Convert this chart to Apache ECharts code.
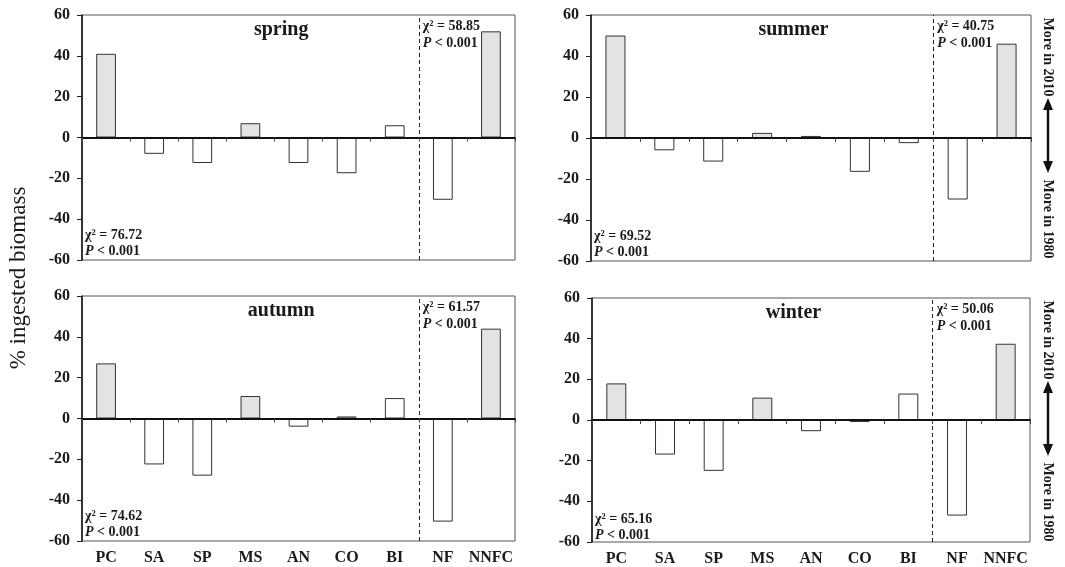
<!DOCTYPE html>
<html>
<head>
<meta charset="utf-8">
<script src="https://cdn.jsdelivr.net/npm/echarts@6/dist/echarts.min.js"></script>
<style>
  html, body { margin: 0; padding: 0; background: #fff; }
  #chart { width: 1065px; height: 567px; }
</style>
</head>
<body>
<div id="chart"></div>
<script>
var categories = ["PC", "SA", "SP", "MS", "AN", "CO", "BI", "NF", "NNFC"];
var seasons = ["spring", "summer", "autumn", "winter"];

var spring = [41, -8, -12.5, 7, -12.5, -17.5, 6, -30.5, 52];
var summer = [50, -6, -11.5, 2.5, 1, -16.5, -2.5, -30, 46];
var autumn = [27, -22.5, -28, 11, -4, 1, 10, -50.5, 44];
var winter = [18, -17, -25, 11, -5.5, -1, 13, -47, 37.5];

var chiRight = ["58.85", "40.75", "61.57", "50.06"];
var chiLeft = ["76.72", "69.52", "74.62", "65.16"];

var yMin = -60;
var yMax = 60;
var yStep = 20;

var values = [spring, summer, autumn, winter];

var FONT = "'Liberation Serif', 'DejaVu Serif', serif";
var INK = "#1a1a1a";

// panel frames (pixels)
var panels = [
  { left: 82, top: 15, width: 433, height: 245 },
  { left: 591, top: 15, width: 440, height: 246 },
  { left: 82, top: 296, width: 433, height: 245 },
  { left: 592, top: 298, width: 438, height: 246 },
];

var chart = echarts.init(document.getElementById("chart"));

var grids = [];
var xAxes = [];
var yAxes = [];
var series = [];
var graphics = [];

var rich = {
  b: { font: "bold 14px " + FONT, fill: INK },
  i: { font: "italic bold 14px " + FONT, fill: INK },
};

panels.forEach(function (p, k) {
  var bottomRow = k >= 2;
  grids.push({
    left: p.left,
    top: p.top,
    width: p.width,
    height: p.height,
    show: true,
    borderColor: "#555",
    borderWidth: 1,
  });

  // labels along the bottom
  xAxes.push({
    gridIndex: k,
    type: "category",
    data: categories,
    position: "bottom",
    axisLine: { show: false, onZero: false },
    axisTick: { show: false },
    axisLabel: {
      show: bottomRow,
      interval: 0,
      margin: 9,
      color: INK,
      fontFamily: FONT,
      fontWeight: "bold",
      fontSize: 16,
    },
  });
  // zero line with ticks
  xAxes.push({
    gridIndex: k,
    type: "category",
    data: categories,
    position: "bottom",
    z: 10,
    axisLine: { onZero: true, lineStyle: { color: "#111", width: 2 } },
    axisTick: { show: true, interval: 0, length: 4, lineStyle: { color: "#444" } },
    axisLabel: { show: false, interval: 0 },
  });
  // helper for the separator line
  xAxes.push({
    gridIndex: k,
    type: "value",
    min: 0,
    max: categories.length,
    show: false,
    position: "top",
  });

  yAxes.push({
    gridIndex: k,
    type: "value",
    min: yMin,
    max: yMax,
    interval: yStep,
    axisLine: { show: true, lineStyle: { color: "#111", width: 1.5 } },
    axisTick: { show: true, length: 5, lineStyle: { color: "#222" } },
    splitLine: { show: false },
    axisLabel: {
      margin: 12,
      color: INK,
      fontFamily: FONT,
      fontWeight: "bold",
      fontSize: 16,
    },
  });

  series.push({
    type: "bar",
    xAxisIndex: k * 3,
    yAxisIndex: k,
    data: values[k],
    barWidth: "41%",
    animation: false,
    itemStyle: {
      color: function (params) {
        return params.value > 0 && params.name !== "BI" ? "#e3e3e3" : "#ffffff";
      },
      borderColor: "#333",
      borderWidth: 1,
    },
  });

  series.push({
    type: "line",
    xAxisIndex: k * 3 + 2,
    yAxisIndex: k,
    data: [],
    animation: false,
    markLine: {
      silent: true,
      symbol: ["none", "none"],
      label: { show: false },
      lineStyle: { type: [4, 3], color: "#222", width: 1 },
      data: [{ xAxis: 7 }],
    },
  });

  var sepX = p.left + (p.width * 7) / categories.length;

  // season title
  graphics.push({
    type: "text",
    x: p.left + p.width * 0.46,
    y: p.top + 15,
    style: {
      text: seasons[k],
      font: "bold 20px " + FONT,
      fill: INK,
      align: "center",
      verticalAlign: "middle",
    },
  });

  // chi-square, right part
  graphics.push({
    type: "text",
    x: sepX + 4,
    y: p.top + 20,
    style: {
      text: "{b|χ² = " + chiRight[k] + "}\n{i|P}{b| < 0.001}",
      rich: rich,
      lineHeight: 17,
      align: "left",
      verticalAlign: "middle",
    },
  });

  // chi-square, left part
  graphics.push({
    type: "text",
    x: p.left + 3,
    y: p.top + p.height - 17,
    style: {
      text: "{b|χ² = " + chiLeft[k] + "}\n{i|P}{b| < 0.001}",
      rich: rich,
      lineHeight: 16,
      align: "left",
      verticalAlign: "middle",
    },
  });
});

// y axis title
graphics.push({
  type: "text",
  x: 19,
  y: 278,
  rotation: Math.PI / 2,
  style: {
    text: "% ingested biomass",
    font: "23px " + FONT,
    fill: INK,
    align: "center",
    verticalAlign: "middle",
  },
});

// right-hand direction notes
[panels[1], panels[3]].forEach(function (p) {
  var cx = 1048;
  function note(txt, cy) {
    graphics.push({
      type: "text",
      x: cx,
      y: cy,
      rotation: -Math.PI / 2,
      style: {
        text: txt,
        font: "bold 14px " + FONT,
        fill: INK,
        align: "center",
        verticalAlign: "middle",
      },
    });
  }
  note("More in 2010", p.top + 42);
  note("More in 1980", p.top + 204);
  var y1 = p.top + 83;
  var y2 = p.top + 158;
  graphics.push({
    type: "line",
    shape: { x1: cx, y1: y1 + 6, x2: cx, y2: y2 - 6 },
    style: { stroke: "#111", lineWidth: 2.5 },
  });
  graphics.push({
    type: "polygon",
    shape: { points: [[cx, y1], [cx - 5, y1 + 12], [cx + 5, y1 + 12]] },
    style: { fill: "#111" },
  });
  graphics.push({
    type: "polygon",
    shape: { points: [[cx, y2], [cx - 5, y2 - 12], [cx + 5, y2 - 12]] },
    style: { fill: "#111" },
  });
});

var option = {
  backgroundColor: "#fff",
  animation: false,
  grid: grids,
  xAxis: xAxes,
  yAxis: yAxes,
  series: series,
  graphic: graphics,
};

chart.setOption(option);
</script>
</body>
</html>
